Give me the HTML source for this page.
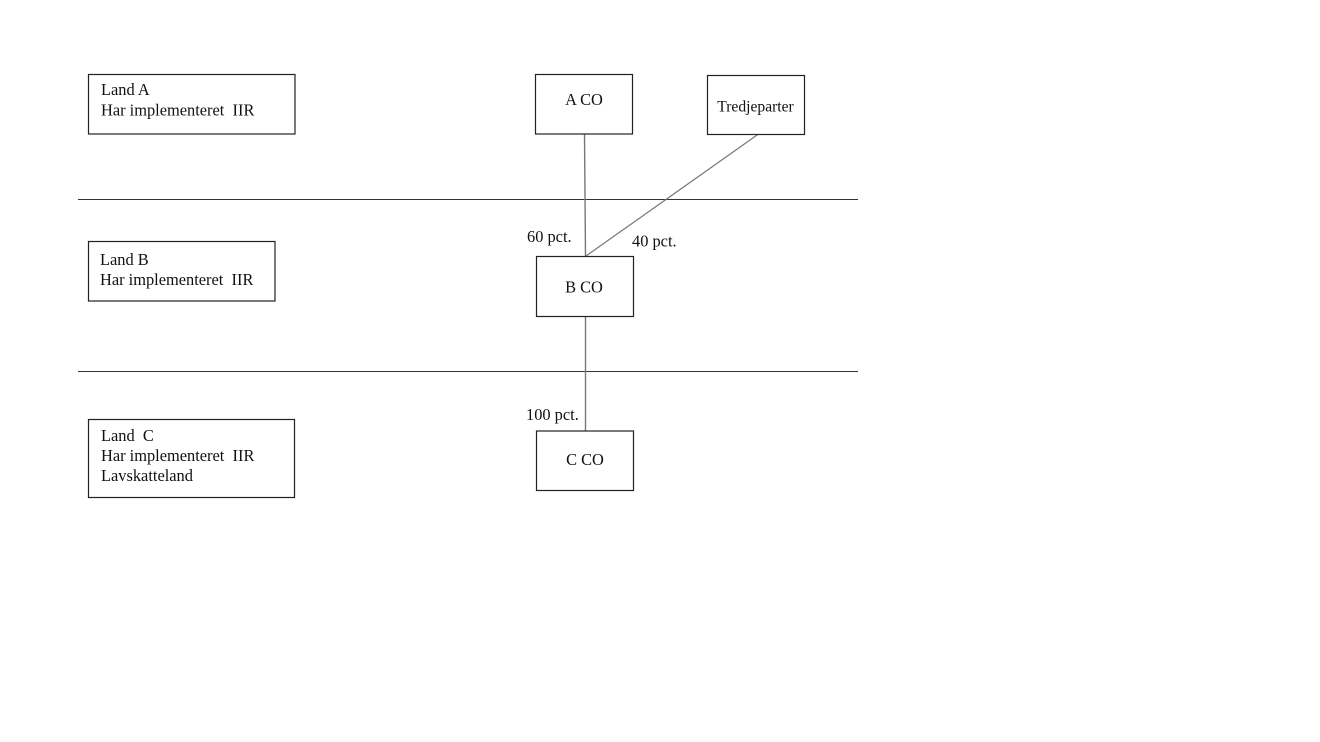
<!DOCTYPE html>
<html>
<head>
<meta charset="utf-8">
<style>
html,body{margin:0;padding:0;background:#fff;}
svg{display:block;}
text{font-family:"Liberation Serif","DejaVu Serif",serif;fill:#111;}
</style>
</head>
<body>
<svg width="1320" height="742" viewBox="0 0 1320 742" xmlns="http://www.w3.org/2000/svg">
<rect x="0" y="0" width="1320" height="742" fill="#fff"/>
<!-- separators -->
<line x1="78" y1="199.5" x2="858" y2="199.5" stroke="#333" stroke-width="1"/>
<line x1="78" y1="371.5" x2="858" y2="371.5" stroke="#333" stroke-width="1"/>
<!-- connectors -->
<line x1="584.5" y1="134" x2="585.5" y2="256" stroke="#777" stroke-width="1.4"/>
<line x1="758.5" y1="134" x2="586" y2="256" stroke="#777" stroke-width="1.2"/>
<line x1="585.5" y1="316" x2="585.5" y2="431" stroke="#777" stroke-width="1.4"/>
<!-- country boxes -->
<rect x="88.5" y="74.5" width="206.5" height="59.5" fill="none" stroke="#222" stroke-width="1.2"/>
<text xml:space="preserve" font-size="16.4" x="101" y="95">Land A</text>
<text xml:space="preserve" font-size="16.4" x="101" y="115.5">Har implementeret  IIR</text>

<rect x="88.5" y="241.5" width="186.5" height="59.5" fill="none" stroke="#222" stroke-width="1.2"/>
<text xml:space="preserve" font-size="16.4" x="100" y="265">Land B</text>
<text xml:space="preserve" font-size="16.4" x="100" y="285">Har implementeret  IIR</text>

<rect x="88.5" y="419.5" width="206" height="78" fill="none" stroke="#222" stroke-width="1.2"/>
<text xml:space="preserve" font-size="16.4" x="101" y="441">Land  C</text>
<text xml:space="preserve" font-size="16.4" x="101" y="461">Har implementeret  IIR</text>
<text xml:space="preserve" font-size="16.4" x="101" y="481">Lavskatteland</text>

<!-- company boxes -->
<rect x="535.5" y="74.5" width="97" height="59.5" fill="#fff" stroke="#222" stroke-width="1.2"/>
<text font-size="16.4" x="584" y="105" text-anchor="middle">A CO</text>

<rect x="707.5" y="75.5" width="97" height="59" fill="#fff" stroke="#222" stroke-width="1.2"/>
<text font-size="15.6" x="755.5" y="111.5" text-anchor="middle">Tredjeparter</text>

<rect x="536.5" y="256.5" width="97" height="60" fill="#fff" stroke="#222" stroke-width="1.2"/>
<text font-size="16.4" x="584" y="292.5" text-anchor="middle">B CO</text>

<rect x="536.5" y="431" width="97" height="59.5" fill="#fff" stroke="#222" stroke-width="1.2"/>
<text xml:space="preserve" font-size="16.4" x="585" y="465" text-anchor="middle">C CO</text>

<!-- labels -->
<text font-size="16.4" x="527" y="242">60 pct.</text>
<text font-size="16.4" x="632" y="246.5">40 pct.</text>
<text font-size="16.4" x="526" y="420">100 pct.</text>
</svg>
</body>
</html>
